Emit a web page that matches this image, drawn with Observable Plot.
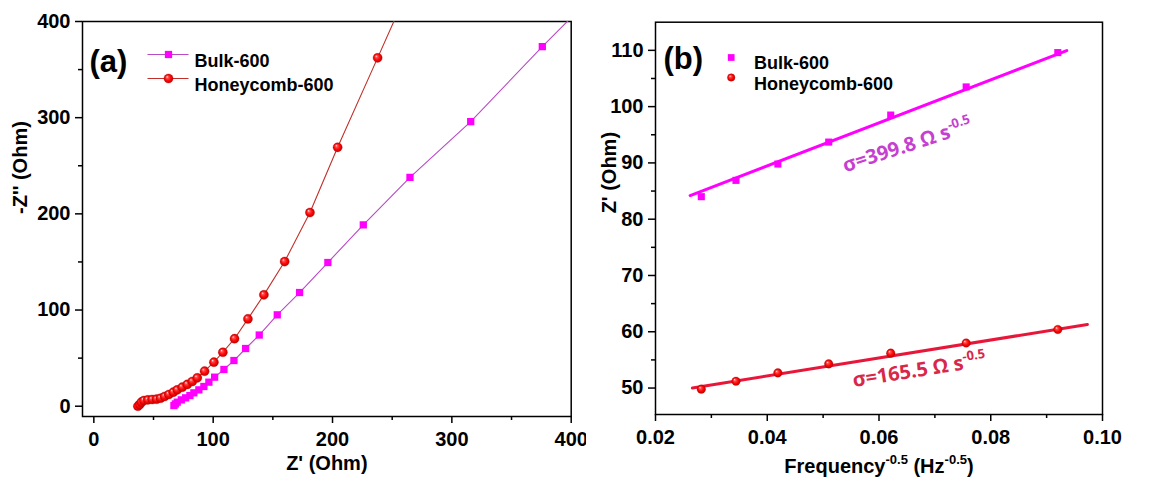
<!DOCTYPE html>
<html><head><meta charset="utf-8">
<script src="https://cdn.jsdelivr.net/npm/d3@7"></script>
<script src="https://cdn.jsdelivr.net/npm/@observablehq/plot@0.6"></script>
<style>
body{margin:0;background:#fff;}
#wrap{display:flex;width:1172px;height:481px;background:#fff;}
</style></head><body>
<svg width="0" height="0" style="position:absolute">
<defs>
<radialGradient id="sphere" cx="0.5" cy="0.5" r="0.5" fx="0.33" fy="0.3">
<stop offset="0" stop-color="#fff4f4"/>
<stop offset="0.25" stop-color="#ff5050"/>
<stop offset="0.6" stop-color="#ff0a0a"/>
<stop offset="1" stop-color="#c00000"/>
</radialGradient></defs></svg>
<div id="wrap"></div>
<script>
// ---------- Panel (a): Nyquist plot ----------
const bulkZreA  = [67.1, 68.3, 69.9, 73.3, 76.9, 80.5, 83.8, 88.0, 92.2, 96.4, 101.2, 109.0, 117.4, 127.2, 138.6, 153.7, 172.4, 196.1, 225.8, 264.9, 315.8, 375.8, 448];
const bulkZimA  = [0.7, 2.4, 4.2, 6.6, 8.7, 11.1, 13.9, 17.0, 20.5, 25.0, 30.2, 38.2, 47.5, 60.0, 74.0, 95.0, 118.2, 149.4, 188.6, 238.0, 295.9, 373.9, 464];
const honeyZreA = [36.9, 38.5, 39.8, 41.9, 45.3, 48.9, 52.6, 55.9, 59.3, 62.9, 66.6, 69.9, 74.1, 78.3, 82.5, 86.7, 92.8, 100.6, 108.1, 117.9, 129.1, 142.5, 159.9, 181.1, 204.3, 237.8, 283];
const honeyZimA = [0.0, 1.8, 4.2, 5.9, 6.6, 7.0, 7.3, 8.3, 10.1, 12.2, 14.6, 17.0, 19.8, 22.6, 25.7, 29.5, 36.4, 45.8, 56.1, 70.2, 90.8, 115.8, 150.4, 201.4, 269.2, 362.2, 488];

// ---------- Panel (b): Z' vs frequency^-0.5 ----------
const freqB     = [0.0282, 0.0344, 0.0419, 0.0510, 0.0621, 0.0756, 0.0920];
const bulkZreB  = [84.0, 86.9, 89.8, 93.7, 98.5, 103.5, 109.6];
const honeyZreB = [49.8, 51.2, 52.7, 54.3, 56.2, 58.0, 60.4];
const bulkFitX  = [0.0262, 0.0936];
const bulkFitY  = [84.2, 109.95];
const honeyFitX = [0.0266, 0.0973];
const honeyFitY = [50.0, 61.3];

const seriesNames = ["Bulk-600", "Honeycomb-600"];
const sigmaLabels = ["σ=399.8 Ω s^{-0.5}", "σ=165.5 Ω s^{-0.5}"];
const sigmaX = [0.0536, 0.0553];
const sigmaY = [89.4, 51.3];

const ticksAX = [0, 100, 200, 300, 400];
const minorAX = [50, 150, 250, 350];
const ticksAY = [0, 100, 200, 300, 400];
const minorAY = [50, 150, 250, 350];
const ticksBX = [0.02, 0.04, 0.06, 0.08, 0.10];
const minorBX = [0.03, 0.05, 0.07, 0.09];
const ticksBY = [50, 60, 70, 80, 90, 100, 110];
const minorBY = [55, 65, 75, 85, 95, 105];

// colours
const MAG = "#ff00ff", MAGLINE = "#b84ac4", REDLINE = "#c0302a", FITRED = "#e8173a", NOTE1 = "#c63fd1", NOTE2 = "#d8284a";
const FONT = "'Liberation Sans', Arial, sans-serif";

const toRows = (xs, ys) => xs.map((x, i) => ({x, y: ys[i]}));
const bulkA = toRows(bulkZreA, bulkZimA);
const honeyA = toRows(honeyZreA, honeyZimA);
const bulkB = toRows(freqB, bulkZreB);
const honeyB = toRows(freqB, honeyZreB);
const bulkFit = toRows(bulkFitX, bulkFitY);
const honeyFit = toRows(honeyFitX, honeyFitY);
const notes = sigmaLabels.map((t, i) => ({t, x: sigmaX[i], y: sigmaY[i]}));

const legendLine = {draw(ctx) { ctx.moveTo(-20.5, 0); ctx.lineTo(20.5, 0); }};

function axes(tx, mx, ty, my, fmt) {
  return [
    Plot.axisX({ticks: tx, tickSize: 7, tickPadding: 8, strokeWidth: 1.5, label: null, tickFormat: fmt, fontSize: 20, fontWeight: "bold"}),
    Plot.axisX({ticks: mx, tickSize: 4, strokeWidth: 1.5, label: null, tickFormat: () => ""}),
    Plot.axisY({ticks: ty, tickSize: 7, tickPadding: 5, strokeWidth: 1.5, label: null, fontSize: 20, fontWeight: "bold"}),
    Plot.axisY({ticks: my, tickSize: 4, strokeWidth: 1.5, label: null, tickFormat: () => ""}),
    Plot.frame({stroke: "black", strokeWidth: 1.5})
  ];
}

const common = {
  width: 586, height: 481,
  style: {fontFamily: FONT, fontWeight: "bold", color: "black", background: "white", overflow: "visible"}
};

const chartA = Plot.plot({
  ...common,
  marginLeft: 82, marginRight: 15.3, marginTop: 21, marginBottom: 65,
  x: {domain: [-9.5, 400]},
  y: {domain: [-10.7, 400]},
  marks: [
    ...axes(ticksAX, minorAX, ticksAY, minorAY, d3.format("d")),
    Plot.line(bulkA, {x: "x", y: "y", stroke: MAGLINE, strokeWidth: 1.1, clip: true}),
    Plot.dot(bulkA, {x: "x", y: "y", symbol: "square", r: 4.1, fill: MAG, clip: true}),
    Plot.line(honeyA, {x: "x", y: "y", stroke: REDLINE, strokeWidth: 1.1, clip: true}),
    Plot.dot(honeyA, {x: "x", y: "y", r: 4.6, fill: "url(#sphere)", stroke: "#c00000", strokeWidth: 0.3, clip: true}),
    // panel tag
    Plot.text(["(a)"], {frameAnchor: "top-left", dx: 7, dy: 28, text: d => d, textAnchor: "start", fontSize: 31, fontWeight: "bold"}),
    // legend
    Plot.dot([0], {frameAnchor: "top-left", dx: 85.5, dy: 33, symbol: legendLine, stroke: MAGLINE, strokeWidth: 1.1, fill: "none"}),
    Plot.dot([0], {frameAnchor: "top-left", dx: 86, dy: 33, symbol: "square", r: 4.1, fill: MAG}),
    Plot.dot([0], {frameAnchor: "top-left", dx: 85.5, dy: 57, symbol: legendLine, stroke: REDLINE, strokeWidth: 1.1, fill: "none"}),
    Plot.dot([0], {frameAnchor: "top-left", dx: 86, dy: 57, r: 4.6, fill: "url(#sphere)", stroke: "#c00000", strokeWidth: 0.3}),
    Plot.text([seriesNames[0]], {frameAnchor: "top-left", dx: 112, dy: 33, text: d => d, textAnchor: "start", fontSize: 18}),
    Plot.text([seriesNames[1]], {frameAnchor: "top-left", dx: 112, dy: 57, text: d => d, textAnchor: "start", fontSize: 18}),
    // axis titles
    Plot.text(["Z' (Ohm)"], {frameAnchor: "bottom", dy: 53, text: d => d, fontSize: 20}),
    Plot.text(["-Z'' (Ohm)"], {frameAnchor: "left", dx: -62, dy: -5, rotate: -90, text: d => d, fontSize: 20})
  ]
});

const chartB = Plot.plot({
  ...common,
  marginLeft: 69, marginRight: 70, marginTop: 21.7, marginBottom: 67,
  x: {domain: [0.02, 0.10]},
  y: {domain: [45.3, 115]},
  marks: [
    ...axes(ticksBX, minorBX, ticksBY, minorBY, d3.format(".2f")),
    Plot.line(bulkFit, {x: "x", y: "y", stroke: MAG, strokeWidth: 3}),
    Plot.dot(bulkB, {x: "x", y: "y", symbol: "square", r: 4, fill: MAG}),
    Plot.line(honeyFit, {x: "x", y: "y", stroke: FITRED, strokeWidth: 3}),
    Plot.dot(honeyB, {x: "x", y: "y", r: 4.3, fill: "url(#sphere)", stroke: "#c00000", strokeWidth: 0.3}),
    Plot.text(notes.slice(0, 1), {x: "x", y: "y", text: "t", rotate: -18, textAnchor: "start", fill: NOTE1, fontFamily: "'Open Sans', sans-serif", fontWeight: "bold", fontSize: 20}),
    Plot.text(notes.slice(1, 2), {x: "x", y: "y", text: "t", rotate: -9, textAnchor: "start", fill: NOTE2, fontFamily: "'Open Sans', sans-serif", fontWeight: "bold", fontSize: 20}),
    Plot.text(["(b)"], {frameAnchor: "top-left", dx: 8, dy: 25, text: d => d, textAnchor: "start", fontSize: 31, fontWeight: "bold"}),
    Plot.dot([0], {frameAnchor: "top-left", dx: 75.7, dy: 35.3, symbol: "square", r: 3.8, fill: MAG}),
    Plot.dot([0], {frameAnchor: "top-left", dx: 75.7, dy: 55.3, r: 3.8, fill: "url(#sphere)", stroke: "#c00000", strokeWidth: 0.3}),
    Plot.text([seriesNames[0]], {frameAnchor: "top-left", dx: 98.4, dy: 34, text: d => d, textAnchor: "start", fontSize: 18}),
    Plot.text([seriesNames[1]], {frameAnchor: "top-left", dx: 98.4, dy: 55, text: d => d, textAnchor: "start", fontSize: 18}),
    Plot.text(["Frequency^{-0.5} (Hz^{-0.5})"], {frameAnchor: "bottom", dy: 58, text: d => d, fontSize: 20}),
    Plot.text(["Z' (Ohm)"], {frameAnchor: "left", dx: -46, dy: -5, rotate: -90, text: d => d, fontSize: 20})
  ]
});

const wrap = document.getElementById("wrap");
wrap.appendChild(chartA);
wrap.appendChild(chartB);

// turn ^{...} into superscript tspans
function applySup(svg) {
  d3.select(svg).selectAll("text").each(function() {
    const t = this.textContent;
    if (!t.includes("^{")) return;
    const fs = parseFloat(getComputedStyle(this).fontSize) || 20;
    const supFs = fs * 0.65, shift = fs * 0.42;
    const parts = t.split(/(\^\{[^}]*\})/).filter(p => p);
    const sel = d3.select(this);
    sel.text(null);
    let shifted = false;
    for (const p of parts) {
      if (p.startsWith("^{")) {
        sel.append("tspan").attr("dy", -shift).attr("font-size", supFs).text(p.slice(2, -1));
        shifted = true;
      } else {
        const ts = sel.append("tspan").text(p);
        if (shifted) { ts.attr("dy", shift); shifted = false; }
      }
    }
  });
}
applySup(chartA);
applySup(chartB);
</script>
</body></html>
